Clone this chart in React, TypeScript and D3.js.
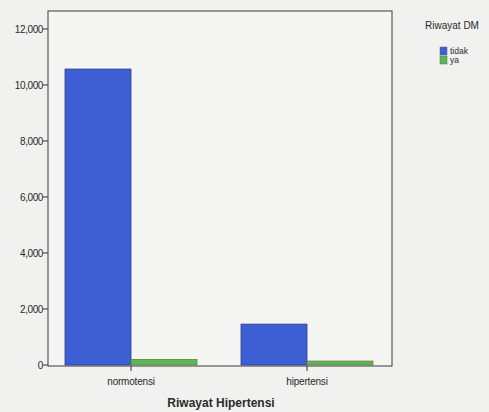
import React from "react";
import * as d3 from "d3";

const categories = ["normotensi", "hipertensi"];
const seriesNames = ["tidak", "ya"];
const tidakValues = [10570, 1460];
const yaValues = [200, 140];
const yTicks = [0, 2000, 4000, 6000, 8000, 10000, 12000];
const colors = ["#3d5fd3", "#56b95a"];

export default function App() {
  const W = 489, H = 412;
  const frame = { l: 48, r: 392, t: 11, b: 366 };
  const y = d3.scaleLinear().domain([0, 12643]).range([365, 11]);
  const x0 = d3.scaleBand<string>().domain(categories).range([65, 373]).paddingInner(0.25).paddingOuter(0);
  const x1 = d3.scaleBand<string>().domain(seriesNames).range([0, x0.bandwidth()]);
  const series = [tidakValues, yaValues];
  const fmt = d3.format(",");
  const font = "Liberation Sans, Arial, sans-serif";
  return (
    <svg width={W} height={H} style={{ position: "absolute", left: 0, top: 0, background: "#f1f1ef" }}>
      <rect x={0} y={0} width={W} height={H} fill="#f1f1ef" />
      <rect x={frame.l} y={frame.t} width={frame.r - frame.l} height={frame.b - frame.t} fill="#f5f5f3" stroke="#3a3a3a" strokeWidth={1} />
      {categories.map((c, ci) =>
        seriesNames.map((s, si) => {
          const v = series[si][ci];
          const bx = (x0(c) ?? 0) + (x1(s) ?? 0);
          return (
            <rect key={c + s} x={bx} y={y(v)} width={x1.bandwidth()} height={y(0) - y(v)}
              fill={colors[si]} stroke={si === 0 ? "#2a3f8a" : "#7a7a30"} strokeWidth={0.8} />
          );
        })
      )}
      {yTicks.map((t) => (
        <g key={t}>
          <line x1={43} x2={frame.l} y1={y(t)} y2={y(t)} stroke="#333" />
          <text x={43} y={y(t)} dy="0.35em" textAnchor="end" fontFamily={font} fontSize={10} fill="#2a2a2a" letterSpacing={-0.4}>{fmt(t)}</text>
        </g>
      ))}
      {categories.map((c) => {
        const cx = (x0(c) ?? 0) + x0.bandwidth() / 2;
        return (
          <g key={c}>
            <line x1={cx} x2={cx} y1={frame.b} y2={frame.b + 5} stroke="#333" />
            <text x={cx} y={385} textAnchor="middle" fontFamily={font} fontSize={10} fill="#2a2a2a" letterSpacing={-0.2}>{c}</text>
          </g>
        );
      })}
      <text x={221} y={407} textAnchor="middle" fontFamily={font} fontSize={12} fontWeight="bold" fill="#2a2a2a">Riwayat Hipertensi</text>
      <text x={452} y={29} textAnchor="middle" fontFamily={font} fontSize={10} fill="#2a2a2a">Riwayat DM</text>
      {seriesNames.map((s, i) => (
        <g key={s}>
          <rect x={440} y={47 + i * 9} width={7} height={8} fill={colors[i]} stroke="#666" strokeWidth={0.5} />
          <text x={450} y={54 + i * 9} fontFamily={font} fontSize={8.5} fill="#2a2a2a">{s}</text>
        </g>
      ))}
    </svg>
  );
}
